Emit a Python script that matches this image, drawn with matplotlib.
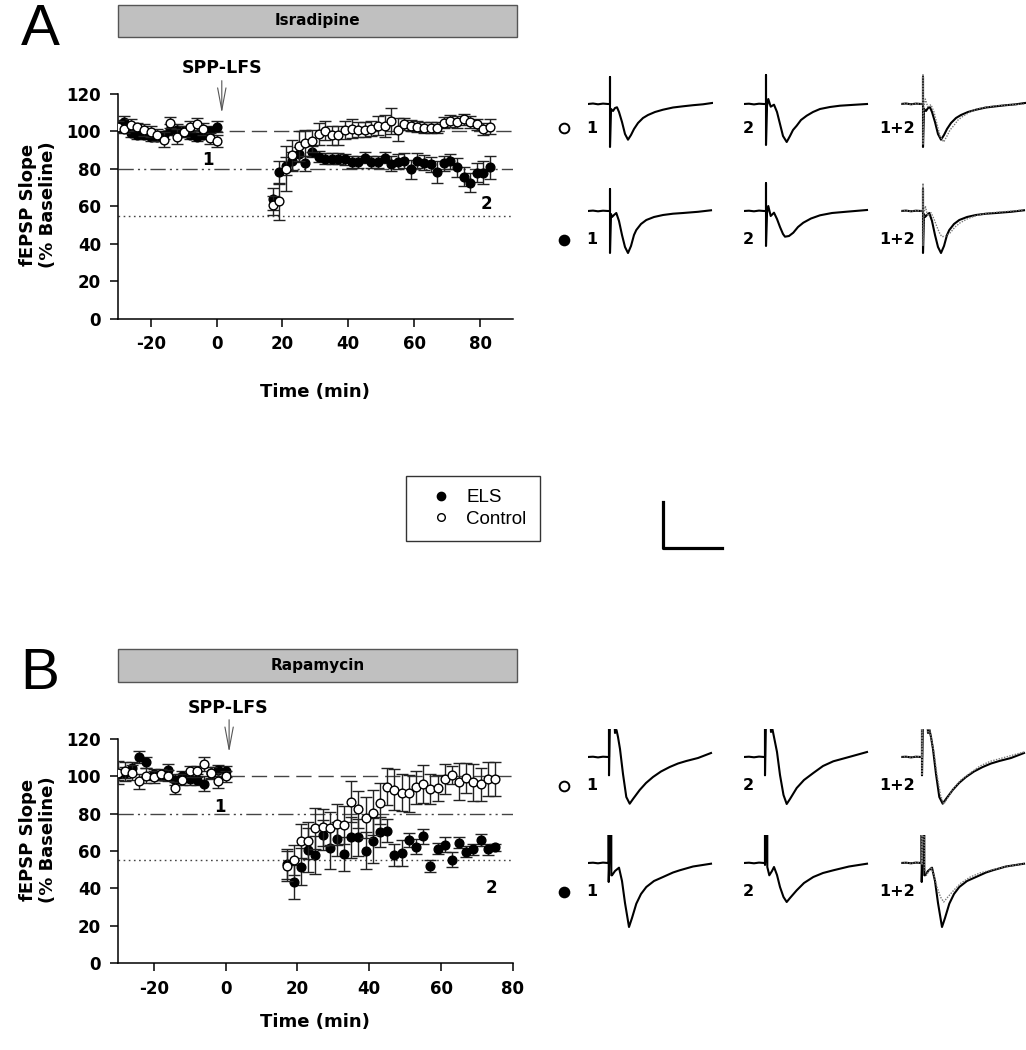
import matplotlib
matplotlib.use("Agg")
import matplotlib.pyplot as plt
from matplotlib.lines import Line2D
from matplotlib.patches import Rectangle

plt.rcParams['font.family'] = ['DejaVu Sans']

W, H = 1026, 1050

# ---------------- data ----------------
base_time = [-30, -28, -26, -24, -22, -20, -18, -16, -14, -12, -10, -8, -6, -4, -2, 0]

# panel A (isradipine)
a_base_els = [103, 105, 99, 98, 98, 97, 97, 98, 101, 101, 100, 98, 97, 98, 100, 102.5]
a_base_els_err = [3, 3, 2, 2, 2, 2, 2, 2, 3, 3, 3, 2, 2, 2, 3, 3]
a_base_ctl = [102.6, 101.2, 103.5, 102.6, 100.8, 99.9, 98.1, 95.5, 104.7, 97.2, 99.9, 102.6, 104, 101.3, 96.4, 94.9]
a_base_ctl_err = [3, 2, 3, 2, 3, 3, 3, 4, 3, 4, 3, 3, 3, 3, 3, 3]
a_post_time = [17, 19, 21, 23, 25, 27, 29, 31, 33, 35, 37, 39, 41, 43, 45, 47, 49,
               51, 53, 55, 57, 59, 61, 63, 65, 67, 69, 71, 73, 75, 77, 79, 81, 83]
a_post_els = [63.9, 78.2, 81.5, 84, 87.8, 83, 89.2, 86.5, 85.5, 85.5, 85.5, 85.1, 83.7, 83.7,
              86, 83.7, 83.7, 86, 82.8, 83.7, 84.4, 79.8, 84.4, 83.3, 82.6, 78.3, 83, 84.2,
              80.8, 75.8, 72.6, 78, 78, 80.8]
a_post_els_err = [6, 6, 5, 5, 4, 4, 3, 3, 3, 3, 3, 3, 3, 3, 3, 3, 3, 3, 4, 4, 4, 5, 4, 4,
                  4, 6, 4, 4, 5, 5, 5, 5, 6, 6]
a_post_ctl = [60.5, 62.7, 80, 87.4, 92, 94, 95, 98.6, 100.4, 98, 98, 100.8, 101.5, 101, 100.8,
              101.5, 103, 103, 105.7, 101, 104, 103, 102.5, 102, 102, 102, 104.7, 105.6, 105,
              106.5, 105, 103.8, 101.3, 102.5]
a_post_ctl_err = [5, 10, 12, 8, 8, 7, 6, 6, 5, 5, 5, 5, 5, 4, 4, 4, 5, 6, 7, 6, 3, 3, 3, 3,
                  3, 3, 3, 3, 3, 3, 3, 3, 3, 4]

# panel B (rapamycin)
b_base_els = [101, 102, 104.5, 110.4, 107.5, 101, 100, 103.6, 98.2, 100, 98.6, 98.2, 96, 102, 103.2, 102.7]
b_base_els_err = [3, 3, 3, 3, 3, 3, 2, 3, 3, 3, 3, 3, 4, 3, 3, 3]
b_base_ctl = [102, 102.7, 102, 97.3, 100.4, 99.6, 101, 100.4, 93.8, 98.2, 102.7, 102.7, 106.6, 101.8, 97.7, 100]
b_base_ctl_err = [6, 5, 4, 4, 4, 3, 3, 3, 3, 3, 3, 3, 4, 3, 4, 3]
b_post_time = [17, 19, 21, 23, 25, 27, 29, 31, 33, 35, 37, 39, 41, 43, 45,
               47, 49, 51, 53, 55, 57, 59, 61, 63, 65, 67, 69, 71, 73, 75]
b_post_els = [53, 43.4, 51.6, 60.5, 57.8, 68.6, 61.4, 66.3, 58.4, 67.3, 67.3, 60.2, 65.5, 70.3,
              70.9, 57.8, 59.1, 65.9, 62.3, 68, 52, 61.2, 63.4, 55.2, 64.4, 59.6, 60.9, 65.9,
              60.9, 62]
b_post_els_err = [8, 9, 10, 12, 10, 8, 11, 9, 9, 11, 10, 10, 12, 8, 6, 6, 7, 4, 4, 4, 3, 3,
                  4, 4, 3, 3, 3, 3, 3, 2]
b_post_ctl = [52, 55.2, 65.5, 65.5, 72.1, 72.7, 72.1, 74.4, 73.9, 86.4, 82.3, 77.8, 80.5, 85.5,
              94.4, 92.7, 91.2, 90.9, 94.1, 95.9, 93, 93.6, 98.4, 100.7, 97.1, 98.9, 96.8, 95.7,
              98.7, 98.7]
b_post_ctl_err = [8, 8, 9, 10, 11, 10, 9, 11, 10, 11, 10, 11, 12, 11, 10, 11, 10, 10, 9, 10,
                  8, 7, 8, 5, 10, 8, 10, 9, 9, 9]

# example traces (time and amplitude relative to baseline, arbitrary units)
tA_ctl1 = [0, 5, 10, 15, 20, 22, 22, 22, 23, 25, 27, 29, 31, 34, 37, 40, 43, 46, 50, 55, 60, 67, 75, 85, 95, 105, 115, 124]
vA_ctl1 = [0, 0.5, -0.3, 0.4, 0, 0, 27, -43, -5, -7, -4, -3.3, -8, -18, -30, -35.7, -31, -25, -19, -14, -11, -8, -5.7, -3.5, -2.3, -1.2, -0.3, 1]
tA_ctl2 = [0, 5, 10, 15, 20, 22, 22, 22, 23, 24.3, 26.7, 30, 33, 36, 39, 42.7, 46, 49, 52.7, 57, 62.7, 69, 76, 86, 96, 110, 123]
vA_ctl2 = [0, 0.3, -0.4, 0.3, 0, 0, 29, -41, -2, 5, -2.7, -0.7, -8, -20, -32, -38, -32, -26, -21.7, -16, -11.7, -8, -5, -3, -1.7, -0.8, 0]
tA_els1 = [0, 5, 10, 15, 20, 22, 22, 22, 23, 24, 26, 28.3, 31, 34, 37, 40, 43, 46, 48.3, 53, 58.3, 66, 75, 85, 95, 110, 123]
vA_els1 = [0, 0.4, -0.3, 0.3, 0, 0, 22, -42, -3, -6, -4, -2, -10, -24, -36, -42, -35, -24, -19, -13, -9, -6, -4, -2.7, -2, -0.8, 0.7]
tA_els2 = [0, 5, 10, 15, 20, 22, 22, 22, 23, 24.3, 26.7, 30, 33, 36, 39, 41, 45, 49.3, 54, 59.3, 67, 76, 88, 102.7, 123]
vA_els2 = [0, 0.3, -0.3, 0.4, 0, 0, 27.7, -35, -2, 5, -5, -1.7, -8, -16, -23, -25.7, -25, -21.7, -16, -11.7, -7.5, -4.3, -2, -0.7, 1]

tB_ctl1 = [0, 5, 10, 15, 20, 21, 21, 21, 22, 26, 27, 28.5, 30, 32, 35, 38.3, 41.7, 45, 51.7, 58, 65, 73, 81.7, 90, 98.3, 110, 123]
vB_ctl1 = [0, 0.3, -0.4, 0.3, 0, 0, 30, -18.3, 45, 45, 24, 27, 20, 8, -17, -40, -46.7, -42, -33, -26, -20, -14.5, -10, -6.5, -4, -1, 4]
tB_ctl2 = [0, 5, 10, 15, 20, 21, 21, 21, 22, 26, 27, 28.5, 30, 33, 36, 39.5, 42.7, 46, 52.7, 60, 69.3, 79, 89.3, 105, 123]
vB_ctl2 = [0, 0.3, -0.3, 0.4, 0, 0, 30, -18.3, 45, 45, 25, 27.5, 20, 5, -18, -38, -47, -42, -31, -23, -16, -9, -4.3, 0, 5]
tB_els1 = [0, 5, 10, 15, 20, 20.7, 20.7, 20.7, 22, 23.3, 23.3, 24, 27, 31, 34, 37, 41, 44, 48.3, 53, 58.3, 66, 75, 85, 91.7, 105, 123]
vB_els1 = [0, 0.3, -0.3, 0.4, 0, 0, 30, -19, 30, 30, -12.3, -12.3, -8, -4.7, -18, -40, -64, -55, -40.7, -31, -24, -18, -14, -9.5, -7.3, -3.5, -0.7]
tB_els2 = [0, 5, 10, 15, 20, 21, 21, 21, 22.2, 23.3, 23.3, 25.3, 28, 30, 33, 36, 39.5, 42.7, 46, 52.7, 60, 69.3, 79, 89.3, 105, 123]
vB_els2 = [0, 0.3, -0.3, 0.4, 0, 0, 30, -2, 30, 30, -4, -12.3, -8, -4, -12, -24, -34, -39, -35, -27.3, -20, -14, -10, -7.3, -3.5, -0.7]

fig = plt.figure(figsize=(W / 100, H / 100), dpi=100)


def px_axes(left, top, right, bottom):
    return fig.add_axes([left / W, 1 - bottom / H, (right - left) / W, (bottom - top) / H])


def plot_panel(ax, xmax, xticks, b_els, b_els_e, b_ctl, b_ctl_e, p_t, p_els, p_els_e, p_ctl, p_ctl_e):
    ax.axhline(100, color='#444444', lw=1, dashes=(11, 5), zorder=1)
    ax.axhline(80, color='#444444', lw=1, dashes=(11, 3, 1.5, 3, 1.5, 3), zorder=1)
    ax.axhline(55, color='#444444', lw=1, dashes=(1.2, 2.5), zorder=1)
    for x, y, e in [(base_time, b_els, b_els_e), (p_t, p_els, p_els_e)]:
        ax.errorbar(x, y, yerr=e, fmt='o', ms=6.3, mfc='black', mec='black', ecolor='#222222',
                    elinewidth=1, capsize=4.5, capthick=1, zorder=3)
    for x, y, e in [(base_time, b_ctl, b_ctl_e), (p_t, p_ctl, p_ctl_e)]:
        ax.errorbar(x, y, yerr=e, fmt='o', ms=6.3, mfc='white', mec='black', mew=1, ecolor='#222222',
                    elinewidth=1, capsize=4.5, capthick=1, zorder=4)
    ax.set_xlim(-30, xmax)
    ax.set_ylim(0, 120)
    ax.set_xticks(xticks, [str(t) for t in xticks], fontweight='bold')
    ax.set_yticks(range(0, 121, 20), [str(t) for t in range(0, 121, 20)], fontweight='bold')
    ax.tick_params(direction='out', length=6, width=1.1, labelsize=12, pad=6)
    for s in ['top', 'right']:
        ax.spines[s].set_visible(False)
    for s in ['left', 'bottom']:
        ax.spines[s].set_linewidth(1.1)
    ax.set_xlabel('Time (min)', fontsize=13, fontweight='bold')


def drug_bar(top, bottom, label):
    fig.add_artist(Rectangle((118 / W, 1 - bottom / H), (517 - 118) / W, (bottom - top) / H,
                             transform=fig.transFigure, fc='#c0c0c0', ec='#555555', lw=1))
    fig.text((118 + 517) / 2 / W, 1 - (top + bottom) / 2 / H, label, ha='center', va='center',
             fontsize=11, fontweight='bold')


def trace(left, base_y, lo, hi, t, v, dotted=False):
    tax = px_axes(left, base_y - hi, left + 125, base_y - lo)
    if dotted:
        tax.plot(t, v, color='#777777', lw=1, ls=(0, (1, 1)), zorder=3)
    else:
        tax.plot(t, v, color='black', lw=1.5, zorder=2)
    tax.set_xlim(0, 125)
    tax.set_ylim(lo, hi)
    tax.axis('off')
    return tax


def trace_row(base_y, lo, hi, t1, v1, t2, v2, y_lab, filled, starts):
    trace(starts[0], base_y, lo, hi, t1, v1)
    trace(starts[1], base_y, lo, hi, t2, v2)
    trace(starts[2], base_y, lo, hi, t1, v1)
    trace(starts[2], base_y, lo, hi, t2, v2, dotted=True)
    fig.add_artist(Line2D([564 / W], [1 - y_lab / H], marker='o', ms=7, mew=1.4,
                          mfc='black' if filled else 'white', mec='black', transform=fig.transFigure))
    for x, s in [(592, '1'), (748, '2'), (897, '1+2')]:
        fig.text(x / W, 1 - y_lab / H, s, ha='center', va='center', fontsize=11.5, fontweight='bold')


# ---------- panel A ----------
axA = px_axes(117.7, 94, 513, 318.7)
plot_panel(axA, 90, [-20, 0, 20, 40, 60, 80], a_base_els, a_base_els_err, a_base_ctl, a_base_ctl_err,
           a_post_time, a_post_els, a_post_els_err, a_post_ctl, a_post_ctl_err)
axA.xaxis.set_label_coords(0.5, -0.285)
axA.annotate('', xy=(1.6, 108.3), xytext=(1.6, 128.6), annotation_clip=False,
             arrowprops=dict(arrowstyle='->,head_length=1.6,head_width=0.3', color='#555555', lw=0.8))
axA.text(1.6, 134, 'SPP-LFS', ha='center', va='center', fontsize=12.5, fontweight='bold', clip_on=False)
axA.text(-2.7, 85, '1', ha='center', va='center', fontsize=12, fontweight='bold')
axA.text(82, 61, '2', ha='center', va='center', fontsize=12, fontweight='bold')
drug_bar(5, 37, 'Isradipine')
fig.text(40 / W, 1 - 45 / H, 'A', ha='center', va='baseline', fontsize=42, family='Liberation Sans')
fig.text(38 / W, 1 - 205 / H, 'fEPSP Slope\n(% Baseline)', rotation=90, ha='center', va='center',
         fontsize=13, fontweight='bold', linespacing=1.1)

trace_row(104, -48, 32, tA_ctl1, vA_ctl1, tA_ctl2, vA_ctl2, 128, False, [588, 744, 901])
trace_row(211, -48, 32, tA_els1, vA_els1, tA_els2, vA_els2, 240, True, [588, 744, 901])

# ---------- panel B ----------
axB = px_axes(117.7, 739, 513, 963)
plot_panel(axB, 80, [-20, 0, 20, 40, 60, 80], b_base_els, b_base_els_err, b_base_ctl, b_base_ctl_err,
           b_post_time, b_post_els, b_post_els_err, b_post_ctl, b_post_ctl_err)
axB.xaxis.set_label_coords(0.5, -0.225)
axB.annotate('', xy=(1.0, 111.4), xytext=(1.0, 131.8), annotation_clip=False,
             arrowprops=dict(arrowstyle='->,head_length=1.6,head_width=0.3', color='#555555', lw=0.8))
axB.text(0.6, 136.6, 'SPP-LFS', ha='center', va='center', fontsize=12.5, fontweight='bold', clip_on=False)
axB.text(-1.6, 83.7, '1', ha='center', va='center', fontsize=12, fontweight='bold')
axB.text(74, 40, '2', ha='center', va='center', fontsize=12, fontweight='bold')
drug_bar(649, 682, 'Rapamycin')
fig.text(40 / W, 1 - 689 / H, 'B', ha='center', va='baseline', fontsize=42, family='Liberation Sans')
fig.text(38 / W, 1 - 840 / H, 'fEPSP Slope\n(% Baseline)', rotation=90, ha='center', va='center',
         fontsize=13, fontweight='bold', linespacing=1.1)

trace_row(757, -52, 28, tB_ctl1, vB_ctl1, tB_ctl2, vB_ctl2, 786, False, [588, 744, 901])
trace_row(863, -66, 28, tB_els1, vB_els1, tB_els2, vB_els2, 892, True, [588, 744, 901])

# ---------- legend and scale bar ----------
handles = [Line2D([], [], ls='none', marker='o', ms=6, mfc='black', mec='black'),
           Line2D([], [], ls='none', marker='o', ms=5.5, mfc='white', mec='black', mew=1)]
leg = fig.legend(handles, ['ELS', 'Control'], loc='center', bbox_to_anchor=(473 / W, 1 - 508.5 / H),
                 frameon=True, fancybox=False, edgecolor='black',
                 prop=dict(family='Liberation Sans', size=13.5), borderpad=0.7,
                 handletextpad=0.2, labelspacing=0.24, handlelength=2.3, borderaxespad=0)
leg.get_frame().set_linewidth(1)

fig.add_artist(Line2D([662.7 / W, 662.7 / W, 721.7 / W], [1 - 501.7 / H, 1 - 548 / H, 1 - 548 / H],
                      color='black', lw=2.3, transform=fig.transFigure))

fig.savefig('out.png', dpi=100)
